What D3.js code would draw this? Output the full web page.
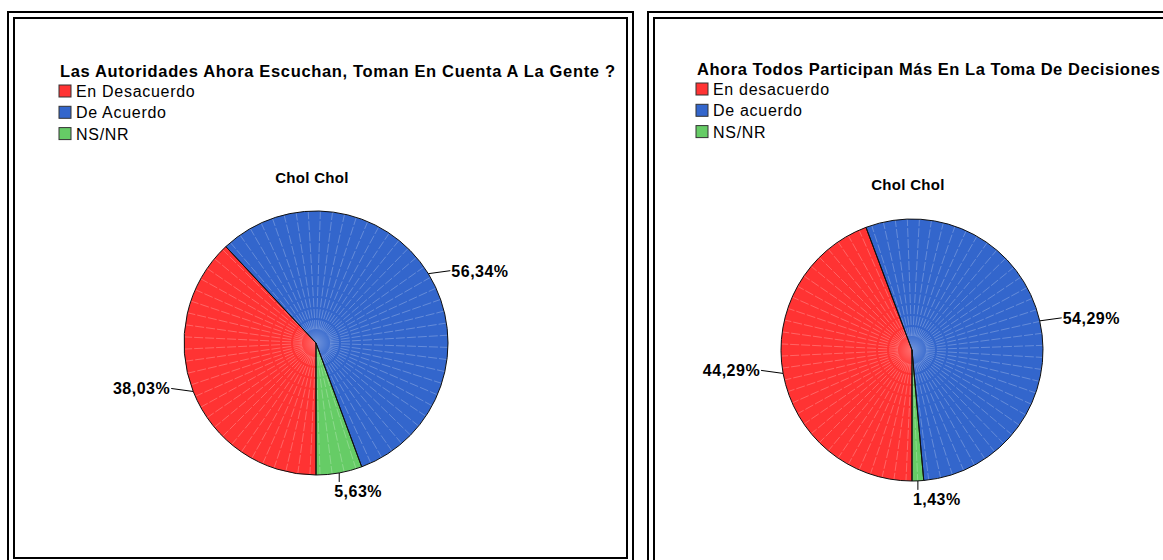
<!DOCTYPE html>
<html>
<head>
<meta charset="utf-8">
<script src="https://cdn.jsdelivr.net/npm/d3@7"></script>
<style>
  body { margin: 0; background: #fff; }
  svg { display: block; font-family: "Liberation Sans", Arial, sans-serif; }
</style>
</head>
<body>
<svg id="chart" width="1163" height="560"></svg>
<script>
// data
var titleLeft = "Las Autoridades Ahora Escuchan, Toman En Cuenta A La Gente ?";
var titleRight = "Ahora Todos Participan Más En La Toma De Decisiones";
var subtitle = "Chol Chol";
var categoriesLeft = ["En Desacuerdo", "De Acuerdo", "NS/NR"];
var categoriesRight = ["En desacuerdo", "De acuerdo", "NS/NR"];
var valuesLeft = [38.03, 56.34, 5.63];
var valuesRight = [44.29, 54.29, 1.43];
var colors = ["#ff3333", "#3366cc", "#66cc66"];

var svg = d3.select("#chart");

// soft glow in the middle of each pie
var defs = svg.append("defs");
var glow = defs.append("radialGradient").attr("id", "glow");
glow.append("stop").attr("offset", "0%").attr("stop-color", "#fff").attr("stop-opacity", 0.3);
glow.append("stop").attr("offset", "100%").attr("stop-color", "#fff").attr("stop-opacity", 0);

var color = d3.scaleOrdinal().domain([0, 1, 2]).range(colors);

function fmt(v) {
    return v.toFixed(2).replace(".", ",") + "%";
}

function drawFrame(x0, x1, y0, y1) {
    // double border like the exported chart
    svg.append("rect")
        .attr("x", x0).attr("y", y0)
        .attr("width", x1 - x0).attr("height", y1 - y0)
        .style("fill", "none").style("stroke", "#000").style("stroke-width", 2);
    svg.append("rect")
        .attr("x", x0 + 6).attr("y", y0 + 6)
        .attr("width", x1 - x0 - 12).attr("height", y1 - y0 - 12)
        .style("fill", "none").style("stroke", "#000").style("stroke-width", 2);
}

function drawPanel(opt, title, categories, values) {

    // title
    svg.append("text")
        .attr("x", opt.tx).attr("y", opt.ty)
        .attr("textLength", opt.tw)
        .attr("lengthAdjust", "spacing")
        .text(title)
        .style("font-size", "16.5px")
        .style("font-weight", "bold")
        .style("fill", "#000");

    // legend
    var leg = svg.append("g").attr("transform", "translate(" + (opt.tx - 1) + "," + (opt.ty + 8) + ")");
    var item = leg.selectAll(".item").data(categories).enter().append("g")
        .attr("transform", function (d, i) { return "translate(0," + (i * 21.3) + ")"; });
    item.append("rect")
        .attr("x", 0).attr("y", 0)
        .attr("width", 12).attr("height", 12)
        .style("fill", function (d, i) { return color(i); })
        .style("stroke", "#333").style("stroke-width", 1);
    item.append("text")
        .attr("x", 17).attr("y", 12)
        .text(function (d) { return d; })
        .style("font-size", "16px")
        .style("letter-spacing", "0.7px")
        .style("fill", "#000");

    // subtitle
    svg.append("text")
        .attr("x", opt.cx - 4).attr("y", opt.cy - 160)
        .attr("text-anchor", "middle")
        .text(subtitle)
        .style("font-size", "15px")
        .style("font-weight", "bold")
        .style("letter-spacing", "0.3px")
        .style("fill", "#000");

    var pie = d3.pie().sort(null).value(function (d) { return d; })
        .startAngle(Math.PI).endAngle(3 * Math.PI);
    var arcs = pie(values);
    var arc = d3.arc().innerRadius(0).outerRadius(opt.r);

    var g = svg.append("g").attr("transform", "translate(" + opt.cx + "," + opt.cy + ")");

    g.selectAll(".slice").data(arcs).enter().append("path")
        .classed("slice", true)
        .attr("d", arc)
        .style("fill", function (d, i) { return color(i); })
        .style("stroke", "none");

    // faint radial rays inside each slice
    var step = Math.PI / 34;
    arcs.forEach(function (d) {
        var rays = d3.range(d.startAngle + step / 2, d.endAngle, step);
        g.selectAll(null).data(rays).enter().append("line")
            .attr("x1", function (a) { return 14 * Math.sin(a); })
            .attr("y1", function (a) { return -14 * Math.cos(a); })
            .attr("x2", function (a) { return opt.r * Math.sin(a); })
            .attr("y2", function (a) { return -opt.r * Math.cos(a); })
            .style("stroke", "#fff")
            .style("stroke-opacity", 0.35)
            .style("stroke-width", 0.7)
            .style("stroke-dasharray", "9,2");
    });

    g.append("circle").attr("r", 18).style("fill", "url(#glow)");

    // slice outlines on top
    g.selectAll(".outline").data(arcs).enter().append("path")
        .classed("outline", true)
        .attr("d", arc)
        .style("fill", "none")
        .style("stroke", "#111")
        .style("stroke-width", 1);

    // labels with short leader lines
    arcs.forEach(function (d) {
        var a = (d.startAngle + d.endAngle) / 2;
        var ex = opt.r * Math.sin(a), ey = -opt.r * Math.cos(a);
        var lx, ly, tx, ty, anchor;
        if (Math.abs(Math.sin(a)) < 0.4) {
            lx = ex; ly = ey + 9;
            tx = lx - 5; ty = ly + 15; anchor = "start";
        } else {
            var s = Math.sin(a) > 0 ? 1 : -1;
            lx = ex + s * 22; ly = ey - 3;
            tx = lx + s; ty = ly + 6; anchor = s > 0 ? "start" : "end";
        }
        g.append("line")
            .attr("x1", ex).attr("y1", ey)
            .attr("x2", lx).attr("y2", ly)
            .style("stroke", "#000").style("stroke-width", 1);
        g.append("text")
            .attr("x", tx).attr("y", ty)
            .attr("text-anchor", anchor)
            .text(fmt(d.data))
            .style("font-size", "16px")
            .style("font-weight", "bold")
            .style("letter-spacing", "0.5px")
            .style("fill", "#000");
    });
}

drawFrame(8, 633, 12, 564);
drawFrame(648, 1180, 12, 580);

drawPanel({ tx: 60, ty: 77, tw: 555, cx: 316, cy: 343, r: 132 }, titleLeft, categoriesLeft, valuesLeft);
drawPanel({ tx: 697, ty: 75, tw: 463, cx: 912, cy: 350, r: 131 }, titleRight, categoriesRight, valuesRight);
</script>
</body>
</html>
